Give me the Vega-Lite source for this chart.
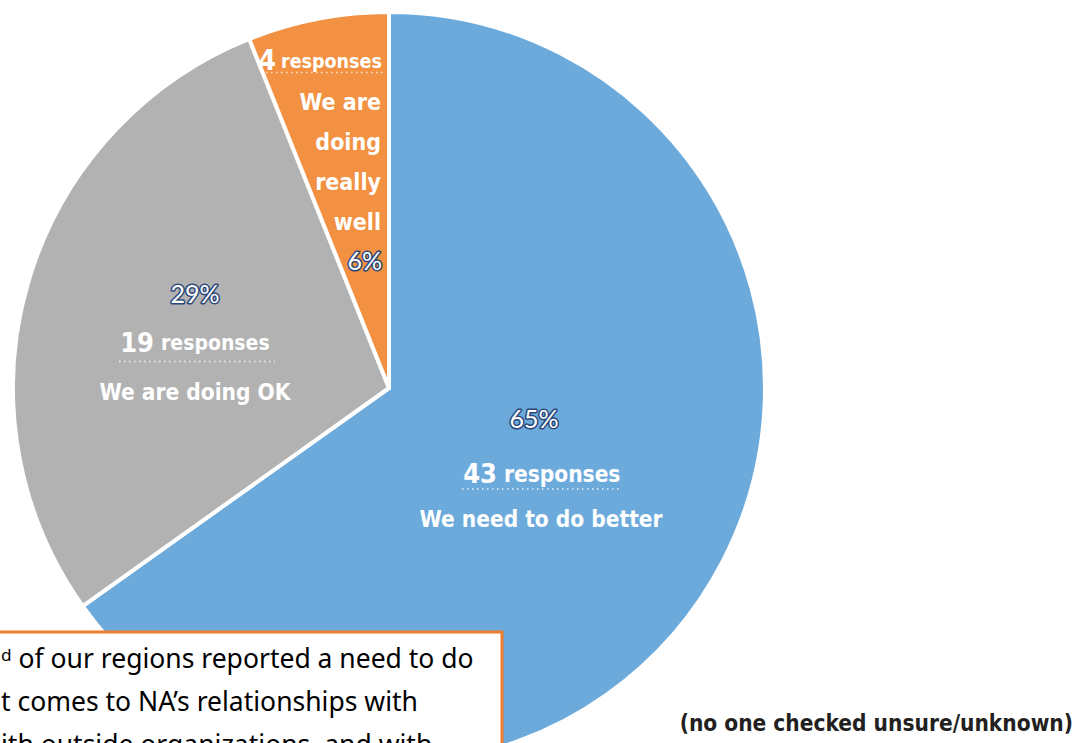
{
  "$schema": "https://vega.github.io/schema/vega-lite/v6.json",
  "width": 1079,
  "height": 743,
  "autosize": {"type": "none"},
  "padding": 0,
  "background": "white",
  "config": {"view": {"stroke": null}},
  "datasets": {
    "slices": [
      {"category": "We need to do better", "label": "We need to do better", "count": 43, "pct": "65%", "rank": 1},
      {"category": "We are doing OK", "label": "We are doing OK", "count": 19, "pct": "29%", "rank": 2},
      {"category": "We are doing really well", "label": "We are\ndoing\nreally\nwell", "count": 4, "pct": "6%", "rank": 3}
    ],
    "note": [
      {"text": "ᵈ of our regions reported a need to do\nt comes to NA’s relationships with\nith outside organizations, and with", "aside": "(no one checked unsure/unknown)"}
    ]
  },
  "data": {"name": "slices"},
  "layer": [
    {
      "mark": {"type": "arc", "x": 389, "y": 388, "outerRadius": 376, "stroke": "white", "strokeWidth": 4, "strokeJoin": "round"},
      "encoding": {
        "theta": {"field": "count", "type": "quantitative", "stack": true},
        "order": {"field": "rank", "type": "quantitative"},
        "color": {"field": "category", "type": "nominal", "legend": null,
          "scale": {"domain": ["We need to do better", "We are doing OK", "We are doing really well"], "range": ["#6CAADC", "#B2B2B2", "#F29141"]}}
      }
    },
    {
      "transform": [{"filter": "datum.rank == 1"}],
      "mark": {"type": "text", "x": 534, "y": 420, "align": "center", "font": "Lato", "fontSize": 25, "fill": "#2A4778", "stroke": "#2A4778", "strokeWidth": 3, "strokeJoin": "round"},
      "encoding": {"text": {"field": "pct"}}
    },
    {
      "transform": [{"filter": "datum.rank == 1"}],
      "mark": {"type": "text", "x": 534, "y": 420, "align": "center", "font": "Lato", "fontSize": 25, "fill": "white"},
      "encoding": {"text": {"field": "pct"}}
    },
    {
      "transform": [{"filter": "datum.rank == 1"}],
      "mark": {"type": "text", "x": 497, "y": 475, "align": "right", "font": "DejaVu Sans Condensed, Liberation Sans Narrow, sans-serif", "fontWeight": "bold", "fontSize": 27, "fill": "white"},
      "encoding": {"text": {"field": "count"}}
    },
    {
      "transform": [{"filter": "datum.rank == 1"}],
      "mark": {"type": "text", "x": 504, "y": 475, "align": "left", "font": "DejaVu Sans Condensed, Liberation Sans Narrow, sans-serif", "fontWeight": "bold", "fontSize": 22.5, "fill": "white", "text": "responses"},
      "encoding": {}
    },
    {
      "transform": [{"filter": "datum.rank == 1"}],
      "mark": {"type": "rule", "stroke": "#E8F0F8", "strokeWidth": 1.5, "strokeDash": [1.5, 3.5]},
      "encoding": {"x": {"value": 462}, "x2": {"value": 622}, "y": {"value": 489}}
    },
    {
      "transform": [{"filter": "datum.rank == 1"}],
      "mark": {"type": "text", "x": 541, "y": 520, "align": "center", "font": "DejaVu Sans Condensed, Liberation Sans Narrow, sans-serif", "fontWeight": "bold", "fontSize": 22.5, "fill": "white"},
      "encoding": {"text": {"field": "label"}}
    },
    {
      "transform": [{"filter": "datum.rank == 2"}],
      "mark": {"type": "text", "x": 195, "y": 295, "align": "center", "font": "Lato", "fontSize": 25, "fill": "#2A4778", "stroke": "#2A4778", "strokeWidth": 3, "strokeJoin": "round"},
      "encoding": {"text": {"field": "pct"}}
    },
    {
      "transform": [{"filter": "datum.rank == 2"}],
      "mark": {"type": "text", "x": 195, "y": 295, "align": "center", "font": "Lato", "fontSize": 25, "fill": "white"},
      "encoding": {"text": {"field": "pct"}}
    },
    {
      "transform": [{"filter": "datum.rank == 2"}],
      "mark": {"type": "text", "x": 154, "y": 344, "align": "right", "font": "DejaVu Sans Condensed, Liberation Sans Narrow, sans-serif", "fontWeight": "bold", "fontSize": 27, "fill": "white"},
      "encoding": {"text": {"field": "count"}}
    },
    {
      "transform": [{"filter": "datum.rank == 2"}],
      "mark": {"type": "text", "x": 161, "y": 344, "align": "left", "font": "DejaVu Sans Condensed, Liberation Sans Narrow, sans-serif", "fontWeight": "bold", "fontSize": 21, "fill": "white", "text": "responses"},
      "encoding": {}
    },
    {
      "transform": [{"filter": "datum.rank == 2"}],
      "mark": {"type": "rule", "stroke": "#F2F2F2", "strokeWidth": 1.5, "strokeDash": [1.5, 3.5]},
      "encoding": {"x": {"value": 119}, "x2": {"value": 275}, "y": {"value": 361.5}}
    },
    {
      "transform": [{"filter": "datum.rank == 2"}],
      "mark": {"type": "text", "x": 195, "y": 393, "align": "center", "font": "DejaVu Sans Condensed, Liberation Sans Narrow, sans-serif", "fontWeight": "bold", "fontSize": 22.5, "fill": "white"},
      "encoding": {"text": {"field": "label"}}
    },
    {
      "transform": [{"filter": "datum.rank == 3"}],
      "mark": {"type": "text", "x": 276, "y": 62, "align": "right", "font": "DejaVu Sans Condensed, Liberation Sans Narrow, sans-serif", "fontWeight": "bold", "fontSize": 28, "fill": "white"},
      "encoding": {"text": {"field": "count"}}
    },
    {
      "transform": [{"filter": "datum.rank == 3"}],
      "mark": {"type": "text", "x": 281, "y": 62, "align": "left", "font": "DejaVu Sans Condensed, Liberation Sans Narrow, sans-serif", "fontWeight": "bold", "fontSize": 19.5, "fill": "white", "text": "responses"},
      "encoding": {}
    },
    {
      "transform": [{"filter": "datum.rank == 3"}],
      "mark": {"type": "rule", "stroke": "#FBE3CF", "strokeWidth": 1.5, "strokeDash": [1.5, 3.5]},
      "encoding": {"x": {"value": 266}, "x2": {"value": 383}, "y": {"value": 72.5}}
    },
    {
      "transform": [{"filter": "datum.rank == 3"}],
      "mark": {"type": "text", "x": 381, "y": 103, "align": "right", "lineBreak": "\n", "lineHeight": 40, "font": "DejaVu Sans Condensed, Liberation Sans Narrow, sans-serif", "fontWeight": "bold", "fontSize": 23, "fill": "white"},
      "encoding": {"text": {"field": "label"}}
    },
    {
      "transform": [{"filter": "datum.rank == 3"}],
      "mark": {"type": "text", "x": 382, "y": 262, "align": "right", "font": "Lato", "fontSize": 25, "fill": "#2A4778", "stroke": "#2A4778", "strokeWidth": 3, "strokeJoin": "round"},
      "encoding": {"text": {"field": "pct"}}
    },
    {
      "transform": [{"filter": "datum.rank == 3"}],
      "mark": {"type": "text", "x": 382, "y": 262, "align": "right", "font": "Lato", "fontSize": 25, "fill": "white"},
      "encoding": {"text": {"field": "pct"}}
    },
    {
      "data": {"name": "note"},
      "mark": {"type": "rect", "x": -10, "x2": 502, "y": 632, "y2": 800, "fill": "white", "stroke": "#ED7D31", "strokeWidth": 3},
      "encoding": {}
    },
    {
      "data": {"name": "note"},
      "mark": {"type": "text", "x": 1, "y": 668, "align": "left", "baseline": "alphabetic", "lineBreak": "\n", "lineHeight": 43, "font": "Noto Sans", "fontSize": 26.5, "fill": "black"},
      "encoding": {"text": {"field": "text"}}
    },
    {
      "data": {"name": "note"},
      "mark": {"type": "text", "x": 1073, "y": 724, "align": "right", "font": "DejaVu Sans Condensed, Liberation Sans Narrow, sans-serif", "fontWeight": "bold", "fontSize": 22.5, "fill": "#231F20"},
      "encoding": {"text": {"field": "aside"}}
    }
  ]
}
